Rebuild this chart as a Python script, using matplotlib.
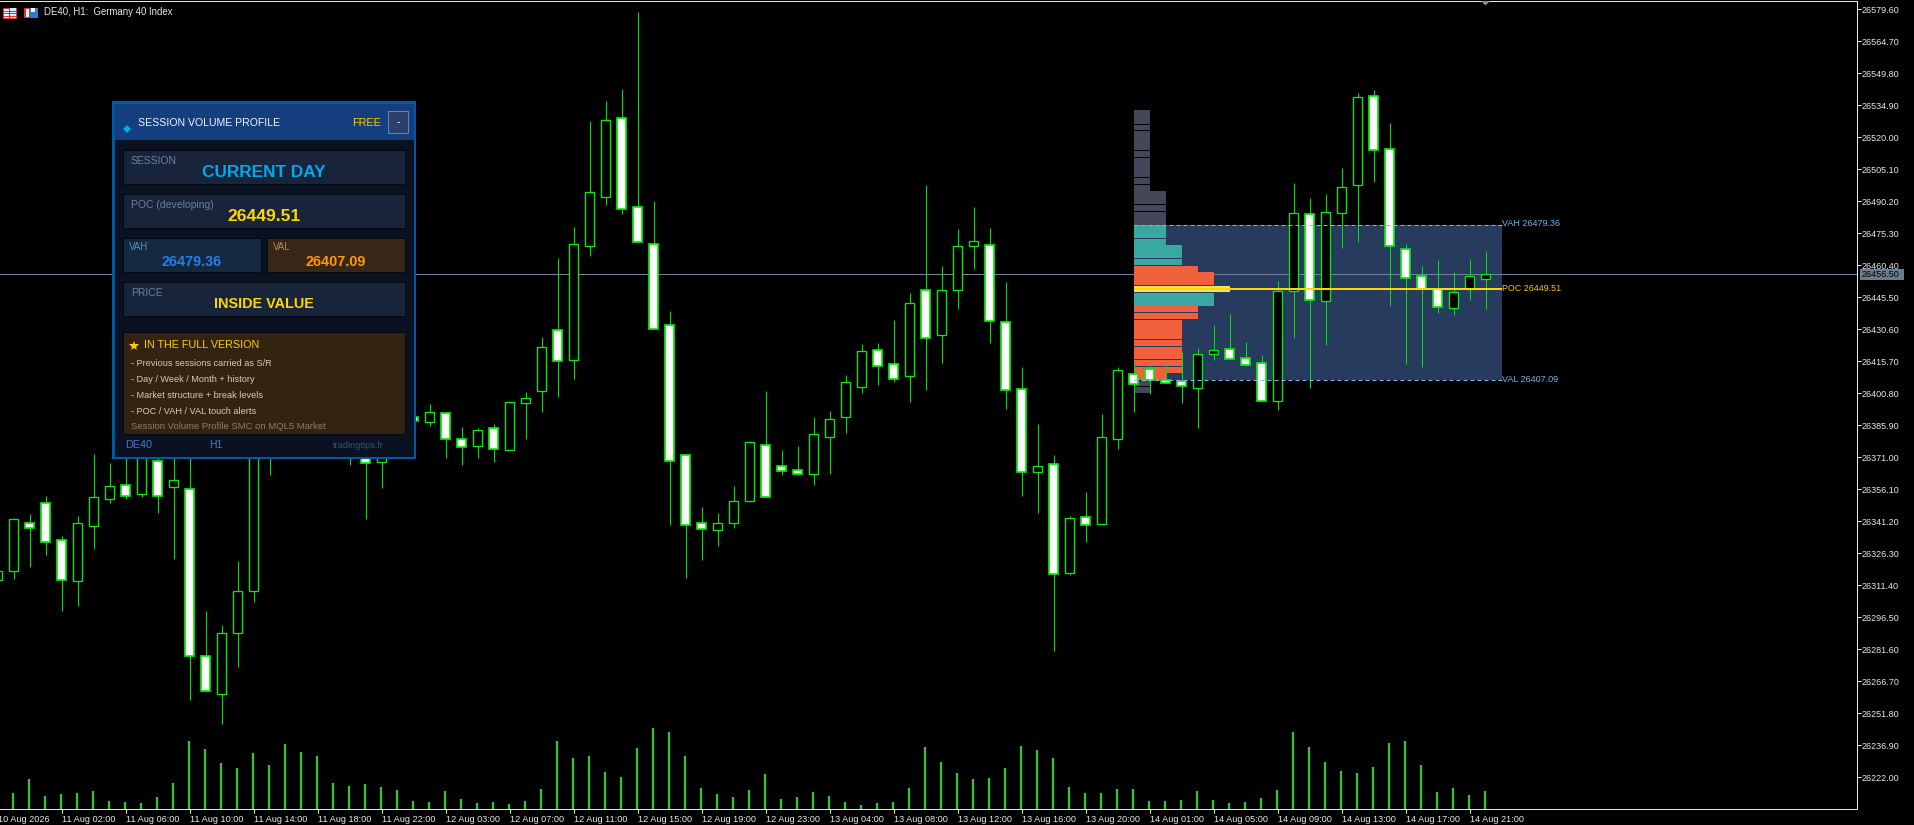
import numpy as np
import matplotlib
matplotlib.use("Agg")
import matplotlib.pyplot as plt
from matplotlib.patches import Rectangle

plt.rcParams['font.family'] = ['Liberation Sans', 'DejaVu Sans']

bars = list(range(-1, 93))
opens = [26313.8,26318.2,26340.2,26349.6,26332.3,26313.5,26339.1,26351.7,26357.9,26354.0,26369.1,26357.3,26356.1,26278.3,26260.9,26289.3,26308.8,26383.7,26397.7,26407.0,26400.0,26409.3,26388.4,26383.7,26368.9,26376.7,26389.8,26387.6,26391.5,26379.4,26376.4,26384.5,26374.5,26396.1,26402.0,26430.1,26416.2,26469.6,26492.4,26528.9,26487.4,26470.2,26432.5,26371.9,26340.2,26337.3,26340.5,26350.8,26376.6,26366.8,26364.9,26363.3,26380.6,26389.6,26403.9,26420.8,26414.3,26409.0,26448.8,26428.1,26449.1,26469.6,26469.7,26433.9,26402.7,26364.3,26367.7,26317.2,26343.0,26340.1,26379.7,26409.9,26411.9,26407.2,26406.4,26403.5,26419.3,26421.3,26417.1,26414.7,26397.0,26448.3,26484.2,26443.7,26484.6,26497.7,26539.1,26514.5,26467.9,26455.3,26449.5,26440.7,26449.2,26454.2]
highs = [26318.0,26342.7,26344.6,26353.0,26334.5,26343.6,26372.5,26368.3,26379.0,26376.7,26374.4,26376.7,26374.4,26299.4,26292.9,26322.7,26388.4,26402.3,26411.7,26414.0,26421.0,26416.3,26411.7,26390.7,26379.0,26393.0,26393.0,26395.7,26392.0,26385.1,26384.5,26386.5,26396.6,26401.4,26427.0,26463.8,26478.3,26527.6,26537.0,26542.5,26578.4,26490.4,26439.1,26371.9,26347.8,26345.0,26357.6,26378.6,26401.9,26374.4,26376.3,26389.8,26392.6,26409.3,26423.8,26424.2,26434.9,26447.5,26497.8,26460.1,26477.3,26487.6,26477.8,26452.6,26413.0,26386.5,26372.1,26343.6,26354.8,26391.2,26413.0,26414.9,26414.3,26415.5,26419.9,26421.8,26432.5,26437.7,26424.7,26418.6,26453.1,26498.8,26491.8,26493.6,26505.7,26540.7,26542.1,26526.7,26470.3,26460.1,26462.9,26457.3,26463.4,26467.1]
lows = [26313.8,26314.3,26320.0,26325.5,26299.5,26301.9,26328.3,26349.8,26351.7,26352.5,26345.2,26323.6,26258.1,26261.8,26246.9,26273.5,26303.7,26362.9,26393.0,26388.4,26393.0,26388.4,26367.5,26342.4,26356.7,26374.4,26383.7,26385.7,26370.8,26367.5,26370.8,26368.9,26374.5,26379.5,26392.2,26399.2,26407.5,26464.9,26488.5,26484.3,26471.4,26430.9,26339.6,26314.9,26323.2,26329.7,26338.1,26350.2,26352.6,26362.7,26362.7,26358.1,26363.2,26382.4,26401.1,26404.7,26406.2,26396.9,26402.5,26415.1,26440.1,26458.7,26424.4,26393.6,26353.1,26345.0,26280.9,26316.2,26331.7,26340.1,26375.0,26392.2,26400.6,26405.8,26396.4,26384.8,26416.3,26416.6,26413.5,26397.4,26393.1,26426.7,26403.4,26423.4,26468.6,26471.3,26499.2,26441.5,26414.4,26413.2,26438.2,26437.3,26444.3,26440.1]
closes = [26318.0,26342.1,26337.9,26331.7,26314.0,26340.2,26352.4,26357.5,26353.1,26372.1,26353.1,26360.3,26278.6,26262.3,26289.0,26308.6,26383.7,26397.7,26407.0,26400.0,26411.7,26397.7,26402.3,26368.3,26372.1,26386.0,26387.9,26392.2,26379.7,26375.9,26383.6,26375.0,26396.6,26398.5,26422.2,26415.7,26470.2,26494.4,26528.0,26486.5,26471.4,26430.9,26369.4,26339.6,26337.7,26340.2,26350.5,26378.0,26352.6,26364.7,26363.3,26381.7,26388.7,26405.9,26420.4,26413.7,26407.6,26442.7,26426.7,26448.8,26469.3,26471.6,26434.6,26402.2,26364.0,26366.8,26316.5,26342.6,26339.6,26380.3,26411.5,26404.9,26407.0,26405.8,26404.0,26419.0,26420.8,26416.6,26414.2,26397.4,26448.3,26484.6,26444.1,26485.1,26496.8,26538.7,26514.0,26469.3,26454.4,26449.5,26441.1,26447.8,26455.3,26456.5]
volumes = [40,49,91,40,46,49,55,25,22,19,37,79,205,181,139,124,169,133,196,172,160,79,70,76,67,58,25,22,55,31,19,22,16,25,61,205,154,160,112,97,184,244,232,160,64,46,37,58,106,31,37,52,40,22,13,19,22,64,187,142,109,91,94,124,190,178,154,67,49,49,61,60,24,24,27,54,27,18,21,33,57,231,186,141,114,108,126,198,204,132,51,63,42,54]

tick_bars = list(range(3, 92, 4))
tick_labels = ["11 Aug 02:00","11 Aug 06:00","11 Aug 10:00","11 Aug 14:00","11 Aug 18:00","11 Aug 22:00",
               "12 Aug 03:00","12 Aug 07:00","12 Aug 11:00","12 Aug 15:00","12 Aug 19:00","12 Aug 23:00",
               "13 Aug 04:00","13 Aug 08:00","13 Aug 12:00","13 Aug 16:00","13 Aug 20:00",
               "14 Aug 01:00","14 Aug 05:00","14 Aug 09:00","14 Aug 13:00","14 Aug 17:00","14 Aug 21:00"]
first_bar = -1
first_label = "10 Aug 2026"

price_ticks = [26222.00,26236.90,26251.80,26266.70,26281.60,26296.50,26311.40,26326.30,26341.20,26356.10,
               26371.00,26385.90,26400.80,26415.70,26430.60,26445.50,26460.40,26475.30,26490.20,26505.10,
               26520.00,26534.90,26549.80,26564.70,26579.60]

last_price = 26456.50
vah = 26479.36
poc = 26449.51
val = 26407.09
session_start_bar = 70
session_end_bar = 93

profile_top = [26532.8,26525.9,26523.0,26513.7,26510.4,26501.1,26497.8,26495.0,26488.5,26485.3,
               26479.36,26475.8,26472.7,26469.9,26463.4,26460.1,26457.3,26450.8,26447.5,26441.5,26438.2,
               26434.9,26425.6,26422.4,26416.2,26413.0,26410.4,26406.5,26403.7]
profile_bottom = [26526.4,26523.4,26514.1,26510.9,26501.6,26498.3,26495.0,26489.0,26485.7,26479.36,
                  26476.1,26473.1,26469.9,26463.8,26460.4,26457.3,26451.2,26448.0,26441.5,26438.7,26435.4,
                  26426.1,26422.8,26416.6,26413.5,26410.4,26407.1,26404.2,26400.9]
profile_count = [1,1,1,1,1,1,1,2,2,2,2,2,2,3,3,4,5,6,5,4,4,3,3,3,3,3,2,1,1]
profile_zone = ["out"]*10 + ["high"]*5 + ["va"]*2 + ["poc","high"] + ["va"]*7 + ["va"] + ["out"]*2
zone_colors = {"out":"#45465A","high":"#38A8A0","va":"#F0603C","poc":"#EFE35C"}

W, H = 1914, 825
DPI = 100
PX = 72/DPI
AX_TOP, AX_BOTTOM, AX_RIGHT = 0.8, 809.3, 1857.0

def px_to_price(y):
    return 26584.0 - 0.4658*y

fig = plt.figure(figsize=(W/DPI, H/DPI), dpi=DPI, facecolor='black')
ax = fig.add_axes([0, 1-AX_BOTTOM/H, AX_RIGHT/W, (AX_BOTTOM-AX_TOP)/H], facecolor='black')
xlim = ((0-13.5)/16, (AX_RIGHT-13.5)/16)
ax.set_xlim(*xlim)
ax.set_ylim(px_to_price(AX_BOTTOM), px_to_price(AX_TOP))

b = np.array(bars, float)
o, h, l, c = map(np.array, (opens, highs, lows, closes))
bull = c >= o

# session box, price line, profile
ax.fill_between([session_start_bar, session_end_bar], val, vah, color='#263B5E', lw=0, zorder=1)
ax.axhline(last_price, color='#6F8296', lw=1*PX, zorder=1.5)
tops, bots = np.array(profile_top), np.array(profile_bottom)
ax.barh((tops+bots)/2, profile_count, height=tops-bots, left=session_start_bar,
        color=[zone_colors[z] for z in profile_zone], lw=0, zorder=2)

# candles
ax.vlines(b, l, h, color='#00E600', lw=1*PX, zorder=3)
ax.bar(b, np.abs(c-o), bottom=np.minimum(o, c), width=0.58,
       color=['black' if u else 'white' for u in bull], edgecolor='#00F000',
       linewidth=[1.3*PX if u else 1.7*PX for u in bull], zorder=4)

# levels
for lev in (vah, val):
    ax.plot([session_start_bar, session_end_bar], [lev, lev], color='#7DBBEA', lw=1*PX,
            ls=(0, (4, 3)), zorder=5)
ax.plot([session_start_bar, session_end_bar], [poc, poc], color='#FFD700', lw=2*PX, zorder=5,
        solid_capstyle='butt')
ax.text(session_end_bar, vah+0.4, f"VAH {vah:.2f}", color='#6DB4EC', fontsize=6.5, va='center', ha='left', zorder=6)
ax.text(session_end_bar, poc, f"POC {poc:.2f}", color='#FFC400', fontsize=6.4, va='center', ha='left', zorder=6)
ax.text(session_end_bar, val+0.2, f"VAL {val:.2f}", color='#6DB4EC', fontsize=6.5, va='center', ha='left', zorder=6)

# axes furniture
for s in ('left',):
    ax.spines[s].set_visible(False)
for s in ('top', 'bottom', 'right'):
    ax.spines[s].set_color('#E8E8E8')
    ax.spines[s].set_linewidth(1*PX)
ax.yaxis.tick_right()
ax.set_yticks(price_ticks)
ax.set_yticklabels([f"{p:.2f}" for p in price_ticks])
ax.tick_params(axis='y', length=4*PX, width=1*PX, color='#E8E8E8', labelcolor='#E8E8E8', labelsize=6.5, pad=1*PX)
ax.set_xticks(tick_bars)
ax.set_xticklabels(tick_labels, ha='left')
ax.tick_params(axis='x', length=4*PX, width=1*PX, color='#E8E8E8', labelcolor='#E8E8E8', labelsize=6.6, pad=2*PX)
ax.text(first_bar, -0.012, first_label, transform=ax.get_xaxis_transform(), color='#E8E8E8',
        fontsize=6.6, ha='left', va='center', clip_on=False)

# volume
axv = fig.add_axes(ax.get_position(), facecolor='none', sharex=ax)
axv.set_ylim(0, (AX_BOTTOM-AX_TOP)*3)
axv.vlines(b-0.05, 0, volumes, color='#32C832', lw=2.2*PX)
axv.axis('off')

# overlay: terminal furniture and dashboard panel, in screen pixels
ov = fig.add_axes([0, 0, 1, 1], facecolor='none', zorder=10)
ov.set_xlim(0, W)
ov.set_ylim(H, 0)
ov.axis('off')

def box(x0, y0, x1, y1, fc, ec='none', lw=0, z=1):
    ov.add_patch(Rectangle((x0, y0), x1-x0, y1-y0, fc=fc, ec=ec, lw=lw*PX, zorder=z))

def txt(x, y, s, size, color, weight='normal', ha='left'):
    ov.text(x, y, s, fontsize=size, color=color, fontweight=weight, ha=ha, va='center', zorder=5)

# price tag and last-bar marker
box(1860, 269, 1904, 279.5, '#6B7C8E')
txt(1862, 274.5, "26456.50", 6.5, 'black')
ov.fill([1481, 1490, 1485.5], [1, 1, 5.5], color='#7493AC', lw=0, zorder=2)

# window icons
box(2.5, 7.5, 16, 17.5, '#FFFFFF', '#E83030', 1)
box(9, 8, 15.5, 17, '#D8E8FF')
for yy in (10.5, 13, 15.5):
    ov.plot([3, 15.5], [yy, yy], color='#E83030', lw=1*PX, zorder=2)
ov.plot([9.2, 9.2], [8, 17], color='#2060D0', lw=1*PX, zorder=2)
box(23.5, 7.5, 30, 17.5, '#E83030')
box(30, 7.5, 38, 17.5, '#2A80D0')
box(26, 9, 29, 17, '#FFFFFF')
box(31, 8, 35, 11.5, '#FFFFFF')
txt(43.5, 11.7, "DE40, H1:  Germany 40 Index", 6.9, '#E8E8E8')

# panel
box(112, 101, 416, 459, '#0058A8')
box(114.5, 103.5, 413.5, 456.5, '#0A1222', z=1.1)
box(114.7, 104, 413.5, 140, '#143E7E', z=1.2)
ov.plot([127.3], [129.3], marker='D', ms=4.1, color='#00AEEF', mew=0, zorder=3)
txt(138.3, 122.7, "SESSION VOLUME PROFILE", 7.6, '#F0F4FA')
txt(352, 122.7, "FREE", 7.8, '#FFCC00')
box(388.3, 111.3, 407.7, 132.7, '#28406A', '#6484B4', 1, z=2)
txt(398, 122.3, "-", 8, '#FFFFFF', ha='center')

card = '#18243A'; edge = '#050810'; lab = '#6C7EA2'
box(122.7, 149.7, 405.3, 184.3, card, edge, 1, 2)
txt(130.7, 160.7, "SESSION", 7.5, lab)
txt(264.3, 172.3, "CURRENT DAY", 12.4, '#00AAEE', 'bold', 'center')
box(122.7, 193.7, 405.3, 228.3, card, edge, 1, 2)
txt(130.7, 205, "POC (developing)", 7.5, lab)
txt(264.3, 216.7, "26449.51", 12.6, '#FFD700', 'bold', 'center')
box(122.7, 237.7, 261.3, 272.3, '#14283E', edge, 1, 2)
txt(128.7, 247.3, "VAH", 7, '#5A8ACA')
txt(191.7, 261.7, "26479.36", 10.4, '#2080F0', 'bold', 'center')
box(266.7, 237.7, 405.3, 272.3, '#3A2616', edge, 1, 2)
txt(272.7, 247.3, "VAL", 7, '#B08A60')
txt(336, 261.7, "26407.09", 10.4, '#FF9900', 'bold', 'center')
box(122.7, 281.7, 405.3, 316.3, card, edge, 1, 2)
txt(130.7, 292.7, "PRICE", 7.5, lab)
txt(264.3, 304, "INSIDE VALUE", 10.4, '#FFD700', 'bold', 'center')
box(122.7, 331.7, 405.3, 434.3, '#322410', edge, 1, 2)
ov.plot([134], [345.5], marker='*', ms=7.5, color='#FFCC00', mew=0, zorder=3)
txt(144.3, 345, "IN THE FULL VERSION", 7.75, '#FFCC00')
for yy, s in zip((363.7, 379.7, 395.7, 411.7),
                 ("- Previous sessions carried as S/R", "- Day / Week / Month + history",
                  "- Market structure + break levels", "- POC / VAH / VAL touch alerts")):
    txt(130.7, yy, s, 6.6, '#D8CFA8')
txt(130.7, 426.7, "Session Volume Profile SMC on MQL5 Market", 6.8, '#8A8060')
txt(124.7, 445.3, "DE40", 7.8, '#4878C8')
txt(209.3, 445.3, "H1", 7.5, '#4878C8')
txt(332.7, 445.3, "tradingtips.fr", 6.6, '#3A5080')

fig.savefig('out.png', dpi=DPI, facecolor='black')
